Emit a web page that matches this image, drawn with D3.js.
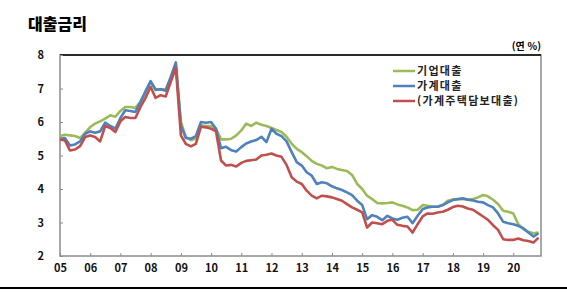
<!DOCTYPE html>
<html lang="ko">
<head>
<meta charset="UTF-8">
<script src="https://d3js.org/d3.v7.min.js"></script>
<style>
  body { margin: 0; background: #fff; }
  text { font-family: "Noto Sans CJK KR", "DejaVu Sans", sans-serif; font-weight: bold; }
</style>
</head>
<body>
<div id="chart"></div>
<script>
// bi-monthly sample points (Jan, Mar, May, Jul, Sep, Nov) 2005 - 2020
var years = d3.range(2005, 2021);
var monthsUsed = [1, 3, 5, 7, 9, 11];
var dates = [];
years.forEach(function(y) { monthsUsed.forEach(function(m) { dates.push(new Date(y, m - 1, 1)); }); });

// 기업대출
var corp = [
  5.58, 5.62, 5.60, 5.58, 5.52, 5.68,
  5.85, 5.95, 6.02, 6.10, 6.20, 6.16,
  6.33, 6.45, 6.45, 6.42, 6.60, 6.90,
  7.20, 6.98, 6.97, 6.98, 7.30, 7.72,
  6.00, 5.56, 5.46, 5.50, 5.90, 5.88,
  5.88, 5.80, 5.48, 5.48, 5.50, 5.60,
  5.75, 5.95, 5.88, 5.98, 5.92, 5.88,
  5.82, 5.76, 5.70, 5.56, 5.35, 5.20,
  5.10, 4.98, 4.84, 4.75, 4.70, 4.62,
  4.66, 4.60, 4.57, 4.54, 4.42, 4.15,
  4.00, 3.80, 3.70, 3.58, 3.57, 3.58,
  3.60, 3.54, 3.50, 3.45, 3.37, 3.38,
  3.52, 3.50, 3.47, 3.47, 3.52, 3.65,
  3.69, 3.69, 3.70, 3.69, 3.70, 3.75,
  3.82, 3.78, 3.68, 3.55, 3.35, 3.32,
  3.27, 2.95, 2.80, 2.72, 2.68, 2.70
];
// 가계대출
var household = [
  5.50, 5.52, 5.30, 5.33, 5.42, 5.65,
  5.72, 5.68, 5.72, 5.98, 5.88, 5.80,
  6.12, 6.35, 6.33, 6.30, 6.60, 6.92,
  7.22, 6.96, 6.98, 6.93, 7.35, 7.78,
  5.90, 5.52, 5.50, 5.58, 6.00, 5.98,
  6.00, 5.80, 5.22, 5.26, 5.16, 5.12,
  5.25, 5.36, 5.42, 5.46, 5.56, 5.40,
  5.80, 5.65, 5.58, 5.42, 5.10, 4.80,
  4.70, 4.50, 4.40, 4.15, 4.20, 4.17,
  4.08, 4.02, 3.97, 3.90, 3.82, 3.65,
  3.52, 3.10, 3.22, 3.17, 3.07, 3.20,
  3.12, 3.08, 3.14, 3.17, 2.98, 3.20,
  3.40, 3.45, 3.47, 3.47, 3.52, 3.60,
  3.67, 3.70, 3.72, 3.68, 3.66, 3.62,
  3.60, 3.52, 3.45, 3.27, 3.02, 2.98,
  2.95, 2.90, 2.83, 2.70, 2.58, 2.68
];
// (가계주택담보대출)
var mortgage = [
  5.48, 5.45, 5.15, 5.18, 5.28, 5.55,
  5.60, 5.55, 5.42, 5.88, 5.82, 5.70,
  6.02, 6.15, 6.12, 6.12, 6.45, 6.72,
  7.05, 6.72, 6.80, 6.76, 7.20, 7.62,
  5.60, 5.35, 5.27, 5.35, 5.86, 5.84,
  5.80, 5.72, 4.85, 4.70, 4.72, 4.67,
  4.78, 4.84, 4.86, 4.88, 5.00, 5.02,
  5.06, 5.00, 4.96, 4.72, 4.35, 4.22,
  4.15, 3.95, 3.80, 3.72, 3.80, 3.78,
  3.75, 3.70, 3.65, 3.55, 3.45, 3.38,
  3.30, 2.85, 3.00, 2.98, 2.95, 3.05,
  3.08, 2.93, 2.90, 2.88, 2.70, 2.95,
  3.18, 3.27, 3.26, 3.30, 3.32, 3.38,
  3.46, 3.50, 3.48, 3.42, 3.38, 3.28,
  3.18, 3.08, 2.92, 2.78, 2.50, 2.48,
  2.48, 2.52, 2.47, 2.45, 2.40, 2.55
];

var seriesNames = ["기업대출", "가계대출", "(가계주택담보대출)"];
var seriesColors = ["#9bbb59", "#4f81bd", "#c0504d"];
var seriesData = [corp, household, mortgage];
var yTicks = [2, 3, 4, 5, 6, 7, 8];
var xTickLabels = years.map(function(y) { return String(y).slice(2); });

var W = 567, H = 292;
var margin = {top: 55, right: 26, bottom: 36, left: 60};
var width = W - margin.left - margin.right,
    height = H - margin.top - margin.bottom;

var svg = d3.select("#chart").append("svg")
  .attr("width", W).attr("height", H);

// title
svg.append("text")
  .attr("x", 28).attr("y", 30)
  .style("font-size", "16px")
  .style("font-weight", 900)
  .text("대출금리");

// unit
svg.append("text")
  .attr("x", margin.left + width).attr("y", 50)
  .attr("text-anchor", "end")
  .style("font-size", "10px")
  .text("(연 %)");

var g = svg.append("g")
  .attr("transform", "translate(" + margin.left + "," + margin.top + ")");

var x = d3.scaleTime()
  .domain([new Date(2005, 0, 1), new Date(2020, 11, 1)])
  .range([0, width]);
var y = d3.scaleLinear()
  .domain([2, 8])
  .range([height, 0]);

// frame
g.append("rect")
  .attr("width", width).attr("height", height)
  .attr("fill", "none").attr("stroke", "#8c8c8c").attr("stroke-width", 1.5);
g.append("line")
  .attr("x1", 0).attr("x2", width).attr("y1", 0).attr("y2", 0)
  .attr("stroke", "#000").attr("stroke-width", 1.5);

// y axis
var yAxis = g.append("g")
  .call(d3.axisLeft(y).tickValues(yTicks).tickFormat(d3.format("d"))
    .tickSize(-3).tickPadding(16));
yAxis.select(".domain").remove();
yAxis.selectAll("line").attr("stroke", "#8c8c8c");
yAxis.selectAll("text").style("font-size", "11px").attr("fill", "#111");

// x axis
var xAxis = g.append("g")
  .attr("transform", "translate(0," + height + ")")
  .call(d3.axisBottom(x)
    .tickValues(years.map(function(yr) { return new Date(yr, 0, 1); }))
    .tickSize(-3).tickPadding(8)
    .tickFormat(function(d, i) { return xTickLabels[i]; }));
xAxis.select(".domain").remove();
xAxis.selectAll("line").attr("stroke", "#8c8c8c");
xAxis.selectAll("text").style("font-size", "11px").attr("fill", "#111");

// lines
var line = d3.line()
  .x(function(d, i) { return x(dates[i]); })
  .y(function(d) { return y(d); });

seriesData.forEach(function(vals, k) {
  g.append("path")
    .datum(vals)
    .attr("fill", "none")
    .attr("stroke", seriesColors[k])
    .attr("stroke-width", 2.6)
    .attr("stroke-linejoin", "round")
    .attr("d", line);
});

// legend
var legend = svg.append("g").attr("transform", "translate(393,71)");
seriesNames.forEach(function(name, k) {
  var row = legend.append("g").attr("transform", "translate(0," + (k * 15) + ")");
  row.append("line")
    .attr("x1", 0).attr("x2", 22).attr("y1", 0).attr("y2", 0)
    .attr("stroke", seriesColors[k]).attr("stroke-width", 2.5);
  row.append("text")
    .attr("x", 24).attr("y", 4)
    .style("font-size", "11px")
    .style("letter-spacing", "1.3px")
    .attr("fill", "#222")
    .text(name);
});

// bottom rule
svg.append("line")
  .attr("x1", 0).attr("x2", W).attr("y1", 288).attr("y2", 288)
  .attr("stroke", "#000").attr("stroke-width", 2);
</script>
</body>
</html>
